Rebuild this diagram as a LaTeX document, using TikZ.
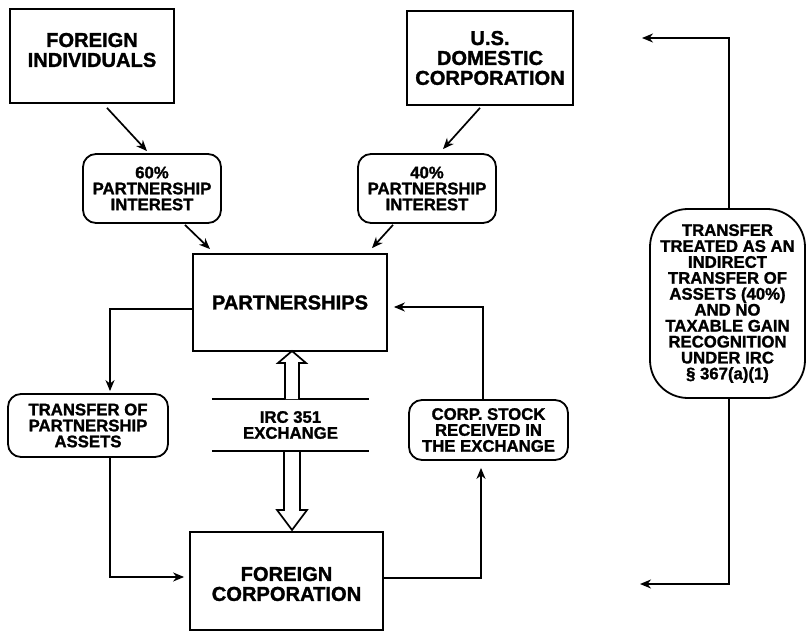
\documentclass[tikz,border=0pt]{standalone}
\usepackage{fontspec}
\setmainfont{Liberation Sans}[BoldFeatures={FakeBold=1.4}]
\usetikzlibrary{arrows.meta,calc}
\begin{document}
\begin{tikzpicture}[x=1bp,y=-1bp,
  sq/.style={draw, line width=1.8bp, inner sep=0pt},
  rb/.style={draw, line width=1.8bp, rounded corners=13bp, inner sep=0pt},
  bigt/.style={font=\fontsize{20.2}{20}\selectfont\bfseries, align=center, inner sep=0pt},
  smlt/.style={font=\fontsize{16.8}{16}\selectfont\bfseries, align=center},
  arr/.style={line width=1.7bp, -{Stealth[length=11bp,width=9bp,inset=3.5bp]}},
  ln/.style={line width=1.8bp},
  hollow/.style={draw, line width=1.7bp, fill=white, line join=miter}]
\useasboundingbox (0,0) rectangle (806,631);

% square boxes
\node[sq, minimum width=164bp, minimum height=94bp] (fi) at (92,56) {};
\node[bigt] (fitxt) at (92,50) {FOREIGN\\INDIVIDUALS};
\node[sq, bigt, minimum width=166bp, minimum height=94bp] (us) at (490,58) {U.S.\\DOMESTIC\\CORPORATION};
\node[sq, bigt, minimum width=194bp, minimum height=97bp] (part) at (290,302.5) {PARTNERSHIPS};
\node[sq, minimum width=193bp, minimum height=98bp] (fc) at (286.5,581) {};
\node[bigt] (fctxt) at (286.5,584) {FOREIGN\\CORPORATION};

% rounded boxes
\node[rb, smlt, minimum width=138bp, minimum height=69bp] (p60) at (152,188.5) {60\%\\PARTNERSHIP\\INTEREST};
\node[rb, smlt, minimum width=138bp, minimum height=69bp] (p40) at (427,188.5) {40\%\\PARTNERSHIP\\INTEREST};
\node[rb, smlt, minimum width=160bp, minimum height=63bp] (tr) at (88,425.5) {TRANSFER OF\\PARTNERSHIP\\ASSETS};
\node[rb, smlt, minimum width=159bp, minimum height=60bp] (cs) at (488.5,430) {CORP. STOCK\\RECEIVED IN\\THE EXCHANGE};
\node[rb, smlt, rounded corners=38bp, minimum width=155bp, minimum height=189bp] (bigb) at (727.5,303.5)
  {TRANSFER\\TREATED AS AN\\INDIRECT\\TRANSFER OF\\ASSETS (40\%)\\AND NO\\TAXABLE GAIN\\RECOGNITION\\UNDER IRC\\§ 367(a)(1)};

% IRC 351 exchange
\node[smlt, inner sep=0pt, minimum width=157bp, minimum height=52bp] (irc) at (290.5,425) {IRC 351\\EXCHANGE};
\draw[ln] (irc.north west) -- (irc.north east);
\draw[ln] (irc.south west) -- (irc.south east);

% hollow arrows
\draw[hollow] (285,399) -- (285,363) -- (278,363) -- (292,351) -- (306,363) -- (299,363) -- (299,399);
\draw[hollow] (284,452) -- (284,510) -- (277,510) -- (292,530) -- (307,510) -- (300,510) -- (300,452);

% connectors
\draw[arr] ([xshift=15bp,yshift=-4bp]fi.south) -- ([xshift=-5bp,yshift=2bp]p60.north);
\draw[arr] ([xshift=33bp,yshift=-1bp]p60.south) -- ([xshift=-80bp,yshift=4bp]part.north);
\draw[arr] ([xshift=-10bp,yshift=-2bp]us.south) -- ([xshift=16bp,yshift=4bp]p40.north);
\draw[arr] ([xshift=-34bp,yshift=-1bp]p40.south) -- ([xshift=82bp,yshift=5bp]part.north);

\draw[arr] ([yshift=-6.5bp]part.west) -| ([xshift=22bp,yshift=2bp]tr.north);
\draw[arr] ([xshift=22bp]tr.south) |- ([xshift=-5bp,yshift=4bp]fc.west);
\draw[arr] ([yshift=3bp]fc.east) -| ([xshift=-7.5bp,yshift=-7bp]cs.south);
\draw[arr] ([xshift=-5.5bp]cs.north) |- ([xshift=6bp,yshift=-4.5bp]part.east);

\coordinate (topend) at (642,38);
\coordinate (botend) at (640,584);
\draw[arr] ([xshift=1.5bp]bigb.north) |- (topend);
\draw[arr] ([xshift=1.5bp]bigb.south) |- (botend);
\end{tikzpicture}
\end{document}
